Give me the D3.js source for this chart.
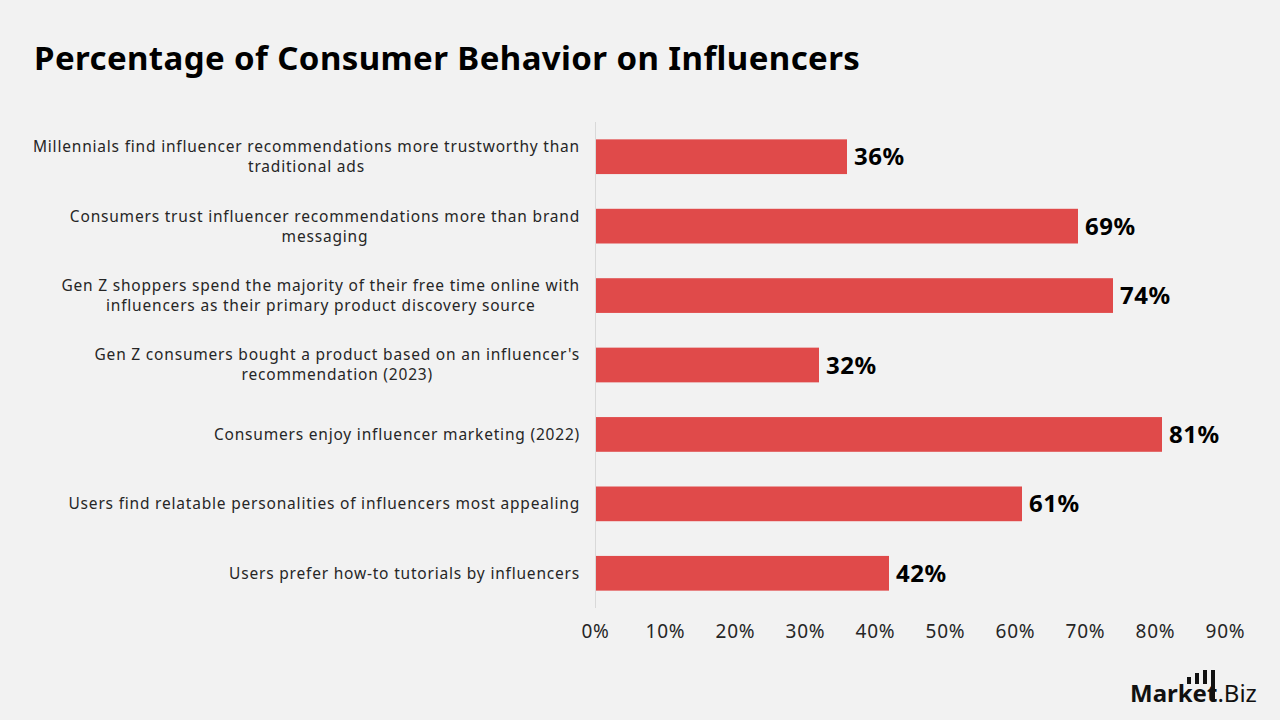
<!DOCTYPE html>
<html>
<head>
<meta charset="utf-8">
<script src="https://cdn.jsdelivr.net/npm/d3@7"></script>
<style>
  body { margin: 0; background: #f2f2f2; }
  svg { display: block; font-family: "Noto Sans", sans-serif; }
</style>
</head>
<body>
<div id="chart"></div>
<script>
// Chart data
const categories = [
    "Millennials find influencer recommendations more trustworthy than\ntraditional ads",
    "Consumers trust influencer recommendations more than brand\nmessaging",
    "Gen Z shoppers spend the majority of their free time online with\ninfluencers as their primary product discovery source",
    "Gen Z consumers bought a product based on an influencer's\nrecommendation (2023)",
    "Consumers enjoy influencer marketing (2022)",
    "Users find relatable personalities of influencers most appealing",
    "Users prefer how-to tutorials by influencers"
];
const values = [36, 69, 74, 32, 81, 61, 42];
const tickValues = [0, 10, 20, 30, 40, 50, 60, 70, 80, 90];

const width = 1280;
const height = 720;
const margin = { top: 122, right: 55, bottom: 112, left: 595 };

const svg = d3.select("#chart")
    .append("svg")
    .attr("width", width)
    .attr("height", height);

svg.append("rect")
    .attr("width", width)
    .attr("height", height)
    .attr("fill", "#f2f2f2");

// Title
svg.append("text")
    .attr("x", 34)
    .attr("y", 70)
    .attr("font-size", 33)
    .attr("font-weight", 700)
    .attr("letter-spacing", 0.4)
    .attr("fill", "#000")
    .text("Percentage of Consumer Behavior on Influencers");

const x = d3.scaleLinear()
    .domain([0, 90])
    .range([margin.left, width - margin.right]);

const y = d3.scaleBand()
    .domain(categories)
    .range([margin.top, height - margin.bottom])
    .paddingInner(0.5)
    .paddingOuter(0.25);

// vertical axis line
svg.append("line")
    .attr("x1", x(0) + 0.5)
    .attr("x2", x(0) + 0.5)
    .attr("y1", margin.top)
    .attr("y2", height - margin.bottom)
    .attr("stroke", "#d9d9d9")
    .attr("stroke-width", 1);

// bars
svg.selectAll("rect.bar")
    .data(values)
    .enter()
    .append("rect")
    .attr("class", "bar")
    .attr("x", x(0) + 1)
    .attr("y", (d, i) => y(categories[i]))
    .attr("width", d => x(d) - x(0) - 1)
    .attr("height", y.bandwidth())
    .attr("fill", "#e04a4a");

// value labels
svg.selectAll("text.value")
    .data(values)
    .enter()
    .append("text")
    .attr("class", "value")
    .attr("x", d => x(d) + 7)
    .attr("y", (d, i) => y(categories[i]) + y.bandwidth() / 2)
    .attr("dy", "0.36em")
    .attr("font-size", 24)
    .attr("font-weight", 700)
    .attr("letter-spacing", 0.5)
    .attr("fill", "#000")
    .text(d => d + "%");

// category labels: block right-aligned at 580, lines centred within the block
const labelRight = 580;
const lh = 20;
categories.forEach(d => {
    const lines = d.split("\n");
    const cy = y(d) + y.bandwidth() / 2;
    const start = cy - (lines.length - 1) * lh / 2;
    const g = svg.append("g").attr("class", "cat");
    const texts = lines.map((line, j) => g.append("text")
        .attr("y", start + j * lh)
        .attr("dy", "0.35em")
        .attr("text-anchor", "middle")
        .attr("font-size", 15.5)
        .attr("letter-spacing", 0.8)
        .attr("fill", "#262626")
        .text(line));
    const blockW = d3.max(texts, t => t.node().getComputedTextLength());
    texts.forEach(t => t.attr("x", labelRight - blockW / 2));
});

// x axis tick labels
const xAxis = svg.append("g")
    .attr("transform", `translate(0,${height - margin.bottom})`)
    .call(d3.axisBottom(x).tickValues(tickValues).tickFormat(d => d + "%").tickSize(0).tickPadding(17));
xAxis.select(".domain").remove();
xAxis.selectAll("text")
    .attr("font-family", "Noto Sans, sans-serif")
    .attr("font-size", 19)
    .attr("letter-spacing", 0.8)
    .attr("fill", "#262626");

// logo
const logo = svg.append("g").attr("transform", "translate(1130,702)");
logo.append("text")
    .attr("font-size", 24)
    .attr("font-weight", 700)
    .attr("fill", "#111")
    .text("Market")
    .append("tspan")
    .attr("font-weight", 400)
    .text(".Biz");
[[57, 7], [65, 11], [73, 14], [81, 30]].forEach(([bx, bh]) => {
    logo.append("rect")
        .attr("x", bx)
        .attr("y", (bh > 20 ? -2 : -18) - bh)
        .attr("width", 4)
        .attr("height", bh)
        .attr("fill", "#111");
});
</script>
</body>
</html>
